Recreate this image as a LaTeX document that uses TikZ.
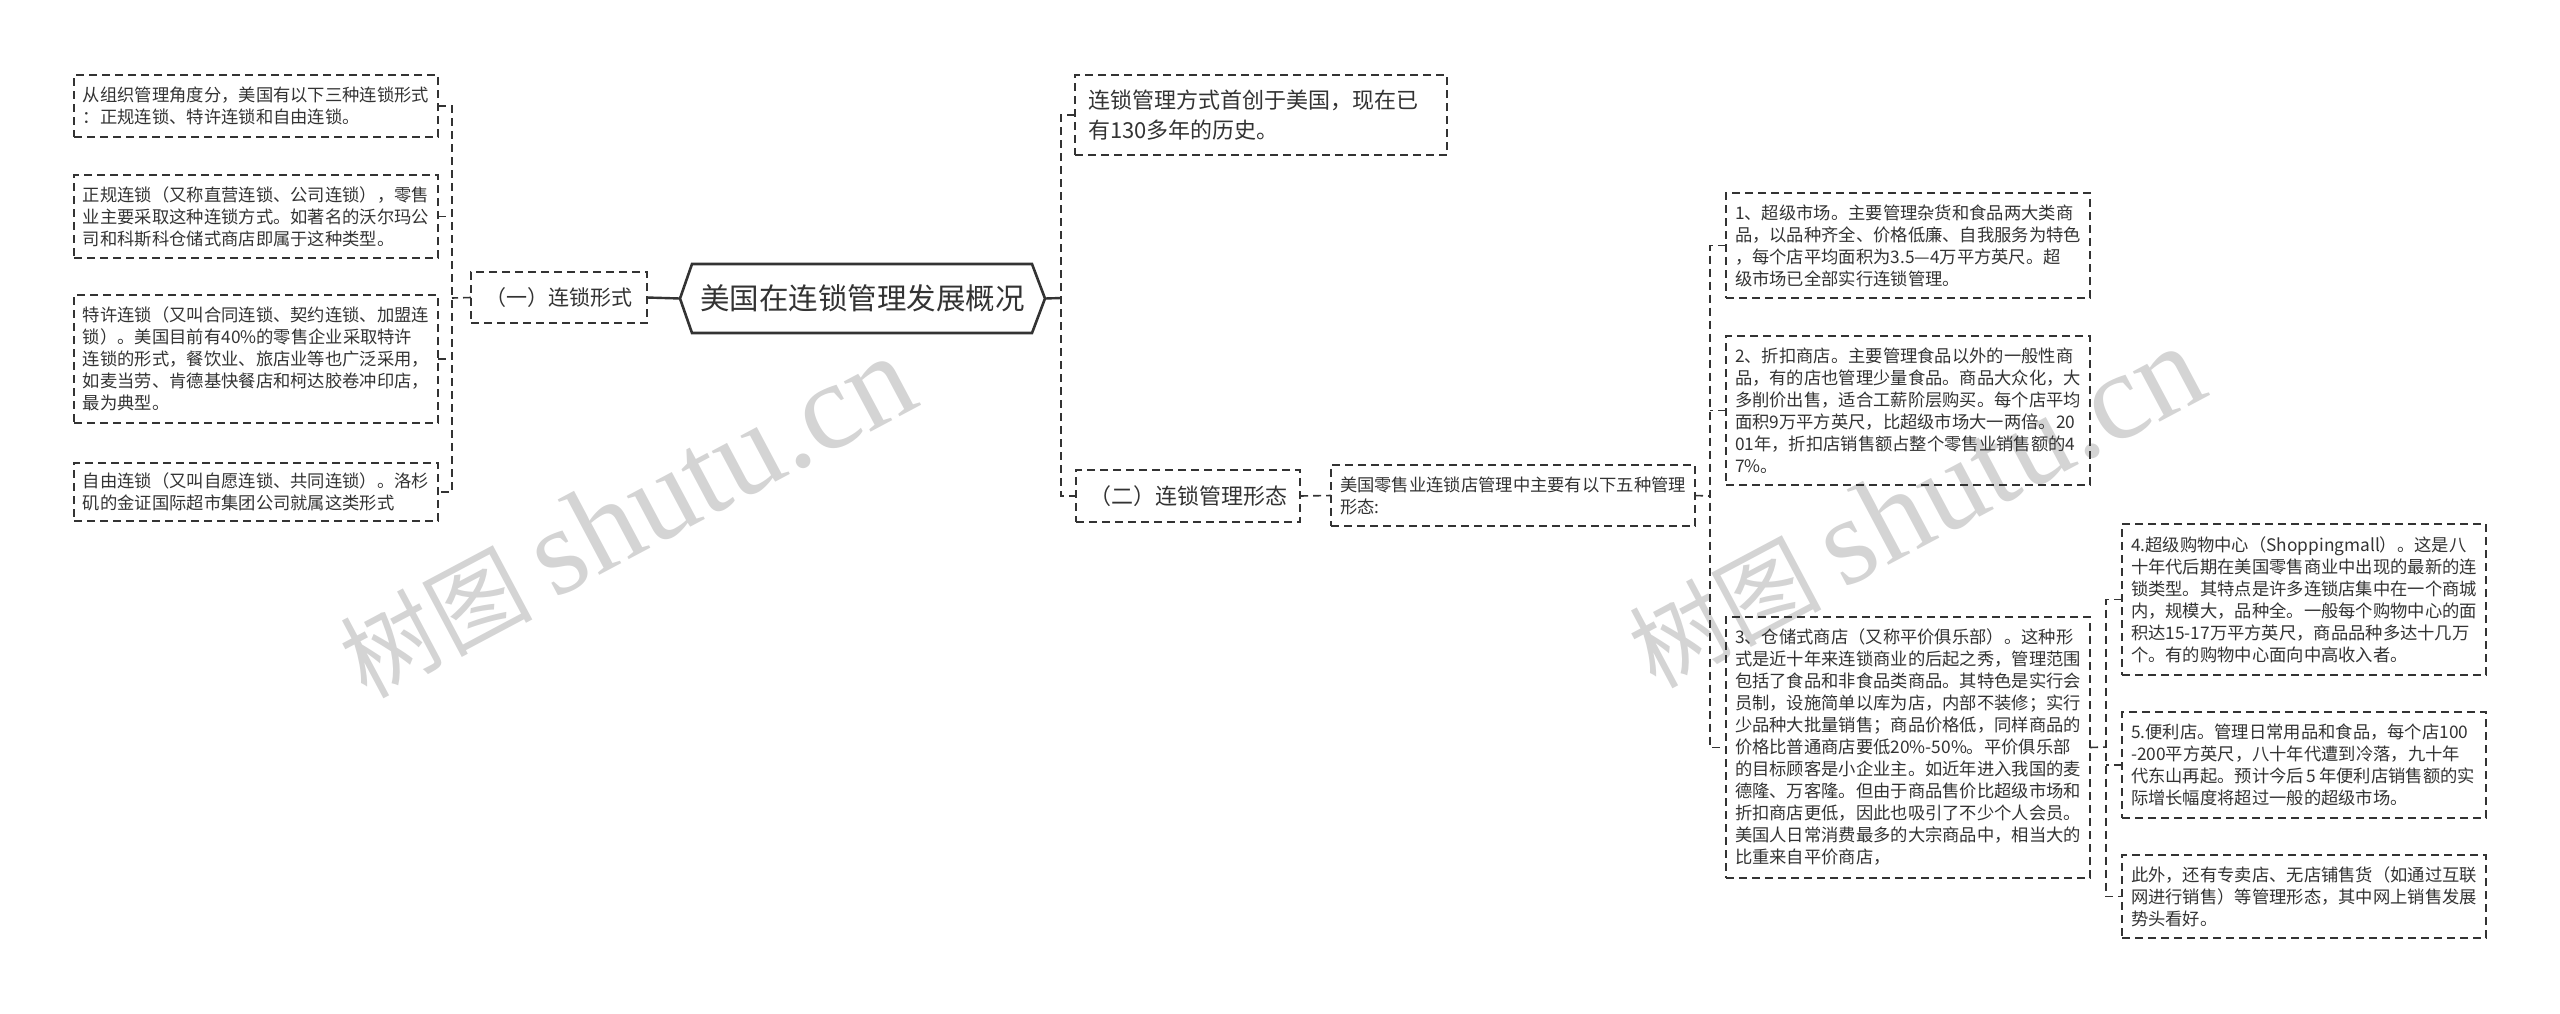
\documentclass[tikz,border=0pt]{standalone}
\usepackage{fontspec}
\setmainfont{Noto Sans CJK SC}
\newfontfamily\markserif{Liberation Serif}
\usetikzlibrary{calc}
\definecolor{lineColor}{RGB}{51,51,51}
\definecolor{textColor}{RGB}{51,51,51}
\definecolor{markColor}{RGB}{212,212,212}
\newcommand{\rootfont}{\fontsize{14.75}{17}\selectfont}
\newcommand{\branchfont}{\fontsize{11}{15}\selectfont}
\newcommand{\subfont}{\fontsize{10.5}{13}\selectfont}
\newcommand{\leaffont}{\fontsize{8.65}{11}\selectfont}
\newcommand{\markfont}{\fontsize{48}{50}\selectfont}

\begin{document}
\begin{tikzpicture}[x=0.5pt, y=-0.5pt,
    box/.style={draw=lineColor, dash pattern=on 4pt off 2.5pt, line width=0.8pt, anchor=north west, text=textColor, outer sep=0pt},
    leaf/.style={box, align=left, font=\leaffont, inner xsep=4.5pt, inner ysep=0pt, text width=173pt, minimum height=#1},
    leaf/.default=31pt,
    branch/.style={box, align=center, inner sep=0pt},
    root/.style={draw=none, font=\rootfont, text=textColor, minimum width=182.5pt, minimum height=34.5pt, inner sep=0pt, outer sep=0pt},
    rootline/.style={draw=lineColor, line width=1.3pt, line join=miter},
    solidlink/.style={draw=lineColor, line width=1.2pt},
    thicklink/.style={draw=lineColor, line width=1.2pt, dash pattern=on 4pt off 2.5pt},
    link/.style={draw=lineColor, line width=0.8pt, dash pattern=on 4pt off 2.5pt},
    wmark/.style={text=markColor, font=\markfont, anchor=base west, rotate=28, inner sep=0pt}
  ]
  \useasboundingbox (0,0) rectangle (2560,1013);

  % watermark
  \node[wmark] (mk1) at (366,700) {树图 {\markserif\fontsize{62}{64}\selectfont shutu.cn}};
  \node[wmark] (mk2) at (1655,690) {树图 {\markserif\fontsize{62}{64}\selectfont shutu.cn}};

  % left side
  \node[leaf=31pt] (b1) at (74,75) {从组织管理角度分，美国有以下三种连锁形式\\：正规连锁、特许连锁和自由连锁。};
  \node[leaf=41.5pt] (b2) at (74,175) {正规连锁（又称直营连锁、公司连锁），零售\\业主要采取这种连锁方式。如著名的沃尔玛公\\司和科斯科仓储式商店即属于这种类型。};
  \node[leaf=64pt] (b3) at (74,295) {特许连锁（又叫合同连锁、契约连锁、加盟连\\锁）。美国目前有40\%的零售企业采取特许\\连锁的形式，餐饮业、旅店业等也广泛采用，\\如麦当劳、肯德基快餐店和柯达胶卷冲印店，\\最为典型。};
  \node[leaf=29pt] (b4) at (74,463) {自由连锁（又叫自愿连锁、共同连锁）。洛杉\\矶的金证国际超市集团公司就属这类形式};
  \node[branch, font=\subfont, minimum width=88pt, minimum height=25.5pt] (one) at (471,272) {（一）连锁形式};

  % root
  \node[root] (main) at (862.5,298.5) {美国在连锁管理发展概况};
  \draw[rootline] (main.west) -- ($(main.north west)+(12,0)$) -- ($(main.north east)+(-13,0)$) -- (main.east) -- ($(main.south east)+(-13,0)$) -- ($(main.south west)+(12,0)$) -- cycle;

  % right side
  \node[box, align=left, font=\branchfont, inner xsep=6.5pt, inner ysep=0pt, text width=173pt, minimum height=40pt] (top) at (1075,75) {连锁管理方式首创于美国，现在已\\有130多年的历史。};
  \node[branch, font=\branchfont, minimum width=112pt, minimum height=26pt] (two) at (1076,470) {（二）连锁管理形态};
  \node[leaf=30.5pt] (five) at (1331,465) {美国零售业连锁店管理中主要有以下五种管理\\形态:};

  \node[leaf=52.5pt] (it1) at (1726,193) {1、超级市场。主要管理杂货和食品两大类商\\品，以品种齐全、价格低廉、自我服务为特色\\，每个店平均面积为3.5—4万平方英尺。超\\级市场已全部实行连锁管理。};
  \node[leaf=74.5pt] (it2) at (1726,336) {2、折扣商店。主要管理食品以外的一般性商\\品，有的店也管理少量食品。商品大众化，大\\多削价出售，适合工薪阶层购买。每个店平均\\面积9万平方英尺，比超级市场大一两倍。20\\01年，折扣店销售额占整个零售业销售额的4\\7\%。};
  \node[leaf=130.5pt] (it3) at (1726,617) {3、仓储式商店（又称平价俱乐部）。这种形\\式是近十年来连锁商业的后起之秀，管理范围\\包括了食品和非食品类商品。其特色是实行会\\员制，设施简单以库为店，内部不装修；实行\\少品种大批量销售；商品价格低，同样商品的\\价格比普通商店要低20\%-50\%。平价俱乐部\\的目标顾客是小企业主。如近年进入我国的麦\\德隆、万客隆。但由于商品售价比超级市场和\\折扣商店更低，因此也吸引了不少个人会员。\\美国人日常消费最多的大宗商品中，相当大的\\比重来自平价商店，};
  \node[leaf=75.5pt] (it4) at (2122,524) {4.超级购物中心（Shoppingmall）。这是八\\十年代后期在美国零售商业中出现的最新的连\\锁类型。其特点是许多连锁店集中在一个商城\\内，规模大，品种全。一般每个购物中心的面\\积达15-17万平方英尺，商品品种多达十几万\\个。有的购物中心面向中高收入者。};
  \node[leaf=53pt] (it5) at (2122,712) {5.便利店。管理日常用品和食品，每个店100\\-200平方英尺，八十年代遭到冷落，九十年\\\mbox{代东山再起。预计今后\,5\,年便利店销售额的实}\\际增长幅度将超过一般的超级市场。};
  \node[leaf=41.5pt] (it6) at (2122,855) {此外，还有专卖店、无店铺售货（如通过互联\\网进行销售）等管理形态，其中网上销售发展\\势头看好。};

  % junctions
  \coordinate (jl) at (452,298);
  \coordinate (jr) at (1061,298);
  \coordinate (jf) at (1710,496);
  \coordinate (jt) at (2106,747);

  % connectors
  \draw[solidlink] (main.west) -- (one.east);
  \draw[link] (one.west) -- (jl);
  \draw[link] (b1.east) -| (jl |- b4.east) -- (b4.east);
  \draw[link] (b2.east) -- (jl |- b2.east);
  \draw[link] (b3.east) -- (jl |- b3.east);

  \draw[solidlink] (main.east) -- (jr);
  \draw[thicklink] (top.west) -| (jr |- two.west) -- (two.west);
  \draw[link] (two.east) -- (five.west);

  \draw[link] (five.east) -- (jf);
  \draw[link] (it1.west) -| (jf |- it3.west) -- (it3.west);
  \draw[link] (it2.west) -- (jf |- it2.west);

  \draw[link] (it3.east) -- (jt);
  \draw[link] (it4.west) -| (jt |- it6.west) -- (it6.west);
  \draw[link] (it5.west) -- (jt |- it5.west);
\end{tikzpicture}
\end{document}
